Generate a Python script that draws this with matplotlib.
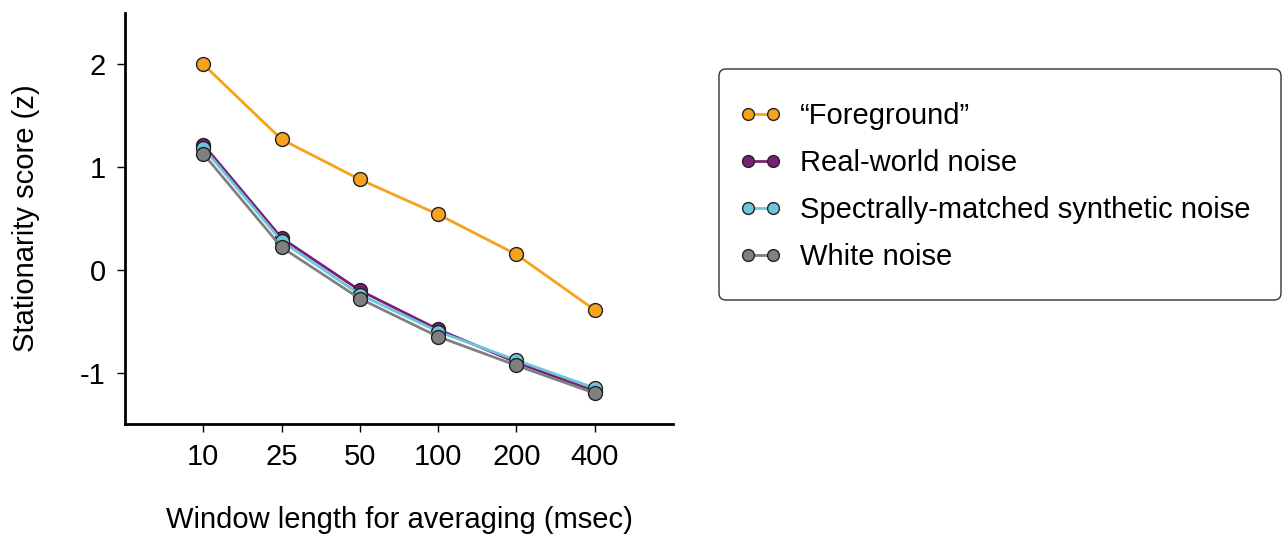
import matplotlib
matplotlib.use("Agg")
import matplotlib.pyplot as plt
from matplotlib.patches import FancyBboxPatch
from matplotlib.transforms import IdentityTransform

plt.rcParams['font.family'] = ['Liberation Sans', 'DejaVu Sans']

windows = ["10", "25", "50", "100", "200", "400"]
foreground = [2.00, 1.27, 0.88, 0.54, 0.15, -0.39]
real_world = [1.22, 0.31, -0.20, -0.58, -0.90, -1.18]
spectral = [1.19, 0.28, -0.24, -0.60, -0.88, -1.15]
white = [1.13, 0.22, -0.28, -0.65, -0.93, -1.20]

series = [
    ("\u201cForeground\u201d", foreground, "#F7A21B"),
    ("Real-world noise", real_world, "#7A1F78"),
    ("Spectrally-matched synthetic noise", spectral, "#6BC6DA"),
    ("White noise", white, "#808080"),
]

FS = 21
W, H = 1283, 535

fig = plt.figure(figsize=(W/100, H/100), dpi=100)
ax = fig.add_axes([125/W, 1 - 424/H, (673-125)/W, (424-13)/H])

x = list(range(len(windows)))
for label, vals, col in series:
    ax.plot(x, vals, '-o', color=col, lw=2, markersize=10,
            markerfacecolor=col, markeredgecolor='#222222', markeredgewidth=1.0,
            label=label)

ax.set_xlim(-1, 6)
ax.set_ylim(-1.5, 2.5)
ax.set_xticks(x)
ax.set_xticklabels(windows)
ax.set_yticks([-1, 0, 1, 2])
ax.set_yticklabels(["-1", "0", "1", "2"])
ax.tick_params(axis='both', labelsize=FS, length=6, width=1, direction='out', pad=8)
for s in ['top', 'right']:
    ax.spines[s].set_visible(False)
for s in ['left', 'bottom']:
    ax.spines[s].set_linewidth(2)

ax.set_xlabel("Window length for averaging (msec)", fontsize=FS)
ax.set_ylabel("Stationarity score (z)", fontsize=FS)
ax.xaxis.set_label_coords(0.5, (424-506)/411)
ax.yaxis.set_label_coords((40-125)/548, 0.5)

# legend frame drawn in pixel coordinates
frame = FancyBboxPatch((719, H - 300), 1281 - 719, 300 - 69,
                       boxstyle="round,pad=0,rounding_size=7",
                       transform=IdentityTransform(), facecolor='white',
                       edgecolor='#333333', linewidth=1.0, zorder=0)
fig.patches.append(frame)

leg = fig.legend(loc='upper left', bbox_to_anchor=(739/W, 1 - 102.5/H),
                 fontsize=FS, numpoints=2, handlelength=1.45, handletextpad=0.63,
                 labelspacing=0.65, borderpad=0, frameon=False, borderaxespad=0)
for h in leg.legend_handles:
    h.set_markersize(8.5)

fig.savefig("out.png", dpi=100)
